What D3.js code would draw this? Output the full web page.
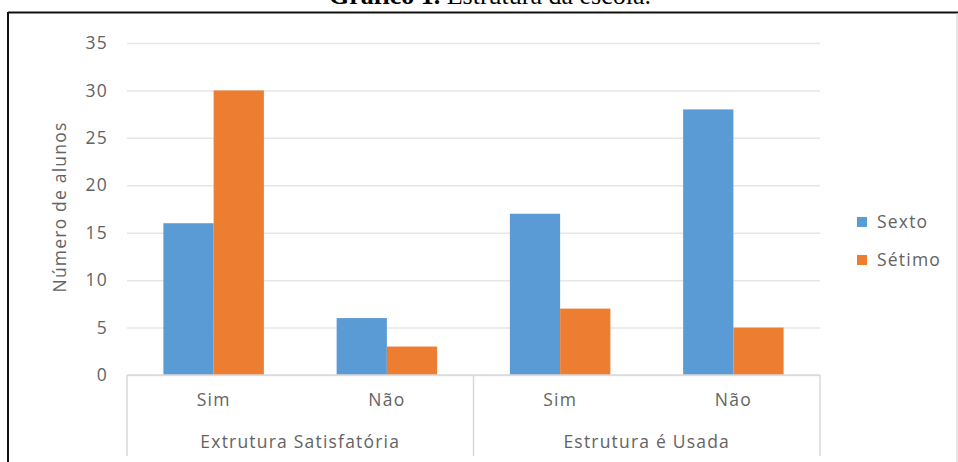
<!DOCTYPE html>
<html>
<head>
<meta charset="utf-8">
<script src="https://cdn.jsdelivr.net/npm/d3@7"></script>
<style>
  html, body { margin: 0; padding: 0; background: #fff; }
  svg { display: block; }
</style>
</head>
<body>
<svg id="chart" width="958" height="462"></svg>
<script>
// Survey answers per class (number of students)
const groups = ["Extrutura Satisfatória", "Estrutura é Usada"];
const answers = ["Sim", "Não"];
const seriesNames = ["Sexto", "Sétimo"];
const sexto = [16, 6, 17, 28];
const setimo = [30, 3, 7, 5];
const yTicks = [0, 5, 10, 15, 20, 25, 30, 35];
const colors = ["#5B9BD5", "#ED7D31"];

const categories = [];
groups.forEach((g, gi) => answers.forEach((a, ai) => categories.push({ key: gi + "-" + ai, group: g, answer: a })));
const series = [sexto, setimo];

const svg = d3.select("#chart");
const font = "'Open Sans', Lato, sans-serif";
const fontSize = "17.5px";
const spacing = "1.2px";
const textColor = "#636363";

function styleText(sel) {
  sel.style("font-family", font)
    .style("font-size", fontSize)
    .style("letter-spacing", spacing)
    .attr("fill", textColor);
}

// Title above the frame
const title = svg.append("text")
  .attr("x", 490).attr("y", 4)
  .attr("text-anchor", "middle")
  .style("font-family", "'Liberation Serif', 'Times New Roman', serif")
  .style("font-size", "26px")
  .attr("fill", "#000");
title.append("tspan").attr("font-weight", "bold").text("Gráfico 1.");
title.append("tspan").text(" Estrutura da escola.");

// Frame
svg.append("line").attr("x1", 8).attr("x2", 958).attr("y1", 12.5).attr("y2", 12.5)
  .attr("stroke", "#111").attr("stroke-width", 2);
svg.append("line").attr("x1", 8).attr("x2", 8).attr("y1", 12).attr("y2", 462)
  .attr("stroke", "#111").attr("stroke-width", 2);
svg.append("line").attr("x1", 957).attr("x2", 957).attr("y1", 13).attr("y2", 462)
  .attr("stroke", "#ccc").attr("stroke-width", 1);

const plot = { left: 127, right: 820, top: 43, bottom: 375 };

const x = d3.scaleBand()
  .domain(categories.map(c => c.key))
  .range([plot.left, plot.right])
  .paddingInner(0.42)
  .paddingOuter(0.21);

const xs = d3.scaleBand()
  .domain(seriesNames)
  .range([0, x.bandwidth()]);

const y = d3.scaleLinear().domain([0, 35]).range([plot.bottom, plot.top]);

// Gridlines and y labels
const yAxis = d3.axisLeft(y).tickValues(yTicks).tickSize(-(plot.right - plot.left)).tickPadding(19);
const gy = svg.append("g").attr("transform", `translate(${plot.left},0)`).call(yAxis);
gy.select(".domain").remove();
gy.selectAll(".tick line").attr("stroke", "#e6e6e6").attr("stroke-width", 1.5);
gy.selectAll(".tick text").call(styleText);

// Axis title
svg.append("text")
  .attr("transform", `translate(66,207) rotate(-90)`)
  .attr("text-anchor", "middle")
  .call(styleText)
  .text("Número de alunos");

// Bars
seriesNames.forEach((s, si) => {
  svg.append("g").selectAll("rect")
    .data(categories)
    .join("rect")
    .attr("x", c => x(c.key) + xs(s))
    .attr("width", xs.bandwidth())
    .attr("y", (c, i) => y(series[si][i]))
    .attr("height", (c, i) => y(0) - y(series[si][i]))
    .attr("fill", colors[si]);
});

// Baseline
svg.append("line").attr("x1", plot.left).attr("x2", plot.right)
  .attr("y1", y(0)).attr("y2", y(0)).attr("stroke", "#d9d9d9").attr("stroke-width", 1.5);

// Category labels (answer level)
const gx = svg.append("g").attr("transform", `translate(0,${plot.bottom})`)
  .call(d3.axisBottom(x).tickSize(0).tickPadding(19).tickFormat(k => categories.find(c => c.key === k).answer));
gx.select(".domain").remove();
gx.selectAll(".tick text").call(styleText);

// Group labels and separators
const gScale = d3.scaleBand().domain(groups).range([plot.left, plot.right]);
svg.append("g").selectAll("text")
  .data(groups)
  .join("text")
  .attr("x", g => gScale(g) + gScale.bandwidth() / 2)
  .attr("y", 448)
  .attr("text-anchor", "middle")
  .call(styleText)
  .text(g => g);

const seps = [plot.left].concat(groups.map(g => gScale(g) + gScale.bandwidth()));
svg.append("g").selectAll("line")
  .data(seps)
  .join("line")
  .attr("x1", d => d).attr("x2", d => d)
  .attr("y1", plot.bottom).attr("y2", 456)
  .attr("stroke", "#d9d9d9").attr("stroke-width", 1.5);

// Legend
const legend = svg.append("g").selectAll("g")
  .data(seriesNames)
  .join("g")
  .attr("transform", (d, i) => `translate(857,${217 + i * 38})`);
legend.append("rect").attr("width", 10).attr("height", 10).attr("fill", (d, i) => colors[i]);
legend.append("text")
  .attr("x", 20).attr("y", 11)
  .call(styleText)
  .text(d => d);
</script>
</body>
</html>
